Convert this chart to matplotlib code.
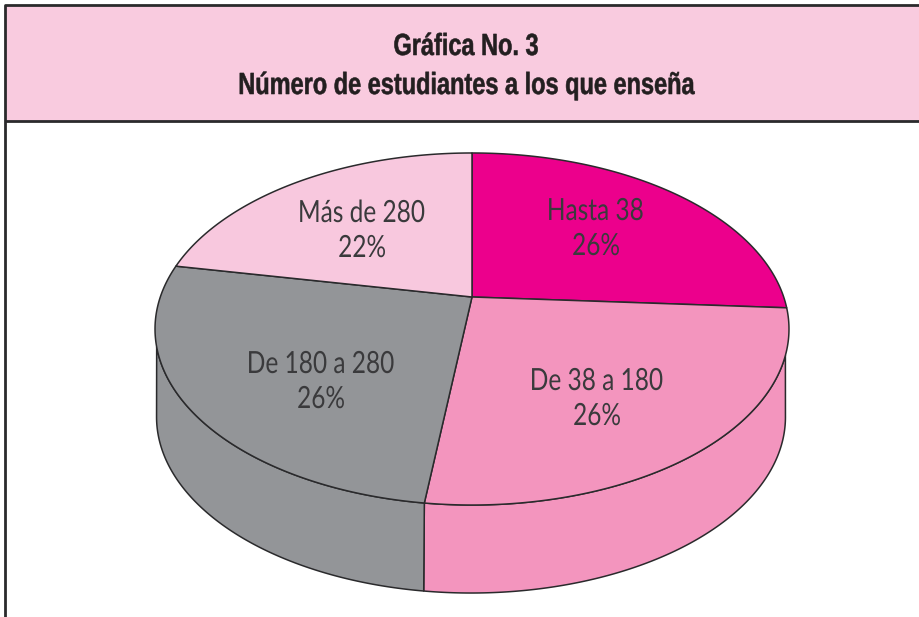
import numpy as np
import matplotlib
matplotlib.use("Agg")
import matplotlib.pyplot as plt
import matplotlib.patheffects as pe
from matplotlib.patches import Polygon, Rectangle
from matplotlib.transforms import Affine2D

title_lines = ["Gráfica No. 3", "Número de estudiantes a los que enseña"]
categories = ["Hasta 38", "De 38 a 180", "De 180 a 280", "Más de 280"]
values = [26, 26, 26, 22]
colors = ["#EC008C", "#F395BE", "#939598", "#F8C8DE"]

label_centers = [595, 596, 320, 361]
label_baselines = [220, 390, 373, 222]
label_leading = 35

BAND = "#F9CBDF"
INK = "#2A2A2C"
TXT = "#3A3A3C"

CX, CY, SX, SY, K, DEPTH = 472, 297, 311.7, 170.2, 0.1818, 88
LOW_CX, LOW_SCALE = 471, 0.992


class Condense(pe.AbstractPathEffect):
    """Narrows the glyphs of a real text around its own middle."""

    def __init__(self, sx, stroke=0.0):
        super().__init__()
        self.sx = sx
        self.stroke = stroke

    def draw_path(self, renderer, gc, tpath, affine, rgbFace=None):
        ext = tpath.get_extents()
        mid = (ext.x0 + ext.x1) / 2
        squeeze = Affine2D().translate(-mid, 0).scale(self.sx, 1).translate(mid, 0)
        gc0 = renderer.new_gc()
        gc0.copy_properties(gc)
        if self.stroke:
            gc0.set_linewidth(self.stroke)
            gc0.set_foreground(rgbFace)
        renderer.draw_path(gc0, tpath, squeeze + affine, rgbFace)
        gc0.restore()


def rim(a0, a1, n=400):
    """Perspective projection of a unit-circle arc (degrees clockwise from top)."""
    t = np.radians(np.linspace(a0, a1, n))
    u, v = np.sin(t), np.cos(t)
    w = 1 + K * v
    return np.column_stack([CX + SX * u / w, CY - SY * v / w])


def lower(pts):
    low = pts.copy()
    low[:, 0] = LOW_CX + (low[:, 0] - CX) * LOW_SCALE
    low[:, 1] += DEPTH
    return low


fig = plt.figure(figsize=(9.2, 6.17), dpi=100, facecolor="white")
ax = fig.add_axes([0, 0, 1, 1])
ax.set_xlim(0, 920)
ax.set_ylim(617, 0)
ax.axis("off")

# Header band and frame
ax.add_patch(Rectangle((5, 5), 915, 116, facecolor=BAND, edgecolor="none", zorder=1))
ax.plot([920, 5, 5], [5, 5, 617], color=INK, lw=2.0, zorder=2, solid_capstyle="butt")
ax.plot([5, 920], [121, 121], color=INK, lw=2.0, zorder=2, solid_capstyle="butt")

for line, base in zip(title_lines, (55, 94)):
    ax.text(466, base, line, ha="center", va="baseline", fontsize=22,
            fontweight="bold", family=["Liberation Sans", "DejaVu Sans"],
            color="#231F20", zorder=3, path_effects=[Condense(0.77, 0.4)])

edges = np.concatenate([[0], np.cumsum(values)]) / np.sum(values) * 360.0

# Side wall: the two front slices; each wall stops at the silhouette of the solid
full_low = lower(rim(0, 360, 1440))
xmin, xmax = full_low[:, 0].min(), full_low[:, 0].max()
for i in (1, 2):
    top = rim(edges[i], edges[i + 1])
    low = lower(top)
    if i == 1:
        low = low[np.argmax(low[:, 0]):]
        top = top[top[:, 0] <= xmax]
    else:
        low = low[:np.argmin(low[:, 0]) + 1]
        top = top[(top[:, 1] > CY + 32) & (top[:, 0] >= xmin)]
    pts = np.vstack([top, low[::-1]])
    ax.add_patch(Polygon(pts, closed=True, facecolor=colors[i], edgecolor=INK,
                         lw=1.1, joinstyle="round", zorder=4))

# Top face
for i in range(len(values)):
    pts = np.vstack([[CX, CY], rim(edges[i], edges[i + 1])])
    ax.add_patch(Polygon(pts, closed=True, facecolor=colors[i], edgecolor=INK,
                         lw=1.1, joinstyle="round", zorder=5))

for name, val, x, y in zip(categories, values, label_centers, label_baselines):
    for s, xx, yy in ((name, x, y), (f"{val}%", x + 1, y + label_leading)):
        ax.text(xx, yy, s, ha="center", va="baseline", fontsize=22,
                family=["Lato", "DejaVu Sans"], color=TXT,
                zorder=6, path_effects=[Condense(0.80)])

fig.savefig("out.png", dpi=100, facecolor="white")
